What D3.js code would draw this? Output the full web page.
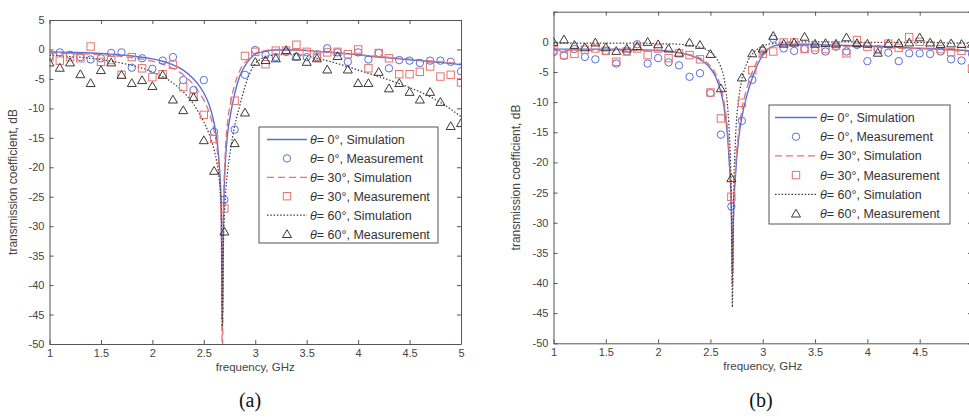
<!DOCTYPE html>
<html>
<head>
<meta charset="utf-8">
<script src="https://cdn.jsdelivr.net/npm/d3@7"></script>
<style>
  body { margin: 0; background: #fff; }
  text { font-family: Arial, "Liberation Sans", sans-serif; }
</style>
</head>
<body>
<svg id="chart" width="969" height="419"></svg>
<script>
// tick labels
const xTicks = [1, 1.5, 2, 2.5, 3, 3.5, 4, 4.5, 5];
const yTicks = [5, 0, -5, -10, -15, -20, -25, -30, -35, -40, -45, -50];

// measured frequencies (GHz), shared by both panels
const measFreq = [1.0, 1.1, 1.2, 1.3, 1.4, 1.5, 1.6, 1.7, 1.8, 1.9, 2.0, 2.1, 2.2, 2.3, 2.4, 2.5, 2.6, 2.7, 2.8, 2.9,
                  3.0, 3.1, 3.2, 3.3, 3.4, 3.5, 3.6, 3.7, 3.8, 3.9, 4.0, 4.1, 4.2, 4.3, 4.4, 4.5, 4.6, 4.7, 4.8, 4.9, 5.0];

// panel (a) simulation
const aSimFreq = [1.0, 1.2, 1.4, 1.6, 1.8, 2.0, 2.1, 2.2, 2.3, 2.4, 2.45, 2.5, 2.55, 2.6, 2.63, 2.65, 2.67, 2.68, 2.69,
                  2.71, 2.73, 2.76, 2.8, 2.85, 2.9, 2.95, 3.0, 3.1, 3.2, 3.4, 3.6, 3.8, 4.0, 4.2, 4.4, 4.6, 4.8, 5.0];
const aSim0 = [-0.4, -0.5, -0.6, -0.8, -1.1, -1.6, -2.0, -2.6, -3.5, -5.0, -6.0, -7.4, -9.3, -12.5, -15.8, -19.5, -27, -48, -30,
               -19, -14.5, -11, -7.5, -4.5, -2.8, -1.6, -0.8, -0.3, -0.1, -0.1, -0.3, -0.6, -0.9, -1.3, -1.6, -1.9, -2.2, -2.6];
const aSim30 = [-0.6, -0.7, -0.8, -1.0, -1.4, -2.0, -2.5, -3.2, -4.3, -6.0, -7.2, -8.6, -10.6, -13.8, -17, -21, -30, -55, -28,
                -17, -12.5, -9, -6, -3.6, -2.2, -1.3, -0.7, -0.2, 0.0, -0.1, -0.3, -0.6, -0.9, -1.2, -1.5, -1.8, -2.1, -2.4];
const aSim60 = [-1.0, -1.2, -1.5, -2.0, -2.7, -3.8, -4.6, -5.7, -7.2, -9.3, -10.7, -12.3, -14.3, -17, -19.5, -22, -28, -47, -34,
                -25, -21, -17, -13, -9.5, -6.3, -3.9, -2.4, -1.3, -0.9, -0.9, -1.5, -2.4, -3.5, -4.6, -5.8, -7.2, -9.0, -11.4];

// panel (a) measurement
const aMeas0 = [-1.2, -0.5, -0.9, -1.3, -1.7, -1.5, -0.6, -0.5, -3.1, -1.5, -3.3, -1.9, -1.3, -5.2, -6.9, -5.2, -14, -25.5, -13.6, -4.3,
                -0.1, -0.9, -1.3, -0.4, -1.2, -1.3, -1.3, 0.2, -0.5, -2.1, -0.5, -1.7, -0.6, -3.2, -1.8, -1.9, -2.3, -1.9, -1.9, -2.1, -3.7];
const aMeas30 = [-1.3, -1.9, -1.3, -1.5, 0.5, -2.1, -1.8, -4.3, -1.3, -3.2, -4.7, -4.2, -2.6, -6.4, -8.0, -11.1, -15.2, -27, -8.7, -1.1,
                 -0.4, -2.5, -0.2, -0.2, 0.8, -0.4, -1.2, -0.5, -0.4, -0.8, 0.0, -3.2, -0.6, -1.5, -4.2, -4.2, -3.8, -2.9, -4.6, -4.3, -5.6];
const aMeas60 = [-2.2, -3.1, -2.2, -4.2, -5.7, -3.5, -2.2, -4.3, -5.7, -5.2, -6.2, -4.3, -8.5, -10.3, -8.1, -15.4, -20.6, -30.9, -15.9, -10.7,
                 -2.1, -1.8, -1.5, -0.1, -1.2, -2.1, -1.5, -3.4, -1.1, -3.4, -5.7, -5.7, -3.8, -6.6, -5.7, -7.2, -8.5, -7.2, -8.9, -13, -12.5];

// panel (b) simulation
const bSimFreq = [1.0, 1.2, 1.4, 1.6, 1.8, 2.0, 2.2, 2.3, 2.4, 2.45, 2.5, 2.55, 2.6, 2.63, 2.66, 2.68, 2.70, 2.71, 2.72,
                  2.74, 2.77, 2.8, 2.85, 2.9, 2.95, 3.0, 3.05, 3.1, 3.2, 3.4, 3.6, 3.8, 4.0, 4.2, 4.4, 4.6, 4.8, 5.0];
const bSim0 = [-1.2, -1.2, -1.2, -1.2, -1.3, -1.4, -1.8, -2.2, -2.9, -3.5, -4.4, -5.8, -8.3, -10.8, -15, -20, -28, -39, -29,
               -22, -16, -12.5, -8.8, -6, -3.8, -2.2, -1.2, -0.7, -0.4, -0.4, -0.5, -0.6, -0.7, -0.8, -1.0, -1.1, -1.3, -1.5];
const bSim30 = [-1.4, -1.4, -1.4, -1.4, -1.4, -1.5, -1.8, -2.1, -2.7, -3.2, -4.0, -5.3, -7.6, -10, -14, -19, -28, -40.5, -30,
                -21, -15, -11.3, -7.6, -5, -3.1, -1.9, -1.2, -0.8, -0.6, -0.6, -0.7, -0.8, -0.9, -1.0, -1.1, -1.2, -1.4, -1.6];
const bSim60 = [-0.2, -0.2, -0.2, -0.2, -0.2, -0.3, -0.4, -0.6, -0.9, -1.2, -1.7, -2.5, -4.2, -6, -10, -15, -26, -44, -27,
                -16, -9.5, -6.3, -3.5, -2, -1.2, -0.7, -0.4, -0.3, -0.1, 0.0, 0.0, 0.0, -0.1, -0.1, -0.1, -0.1, -0.2, -0.2];

// panel (b) measurement
const bMeas0 = [-1.7, -2.3, -1.2, -2.5, -2.9, -1.5, -3.6, -1.6, -0.4, -3.6, -2.7, -3.4, -3.9, -5.8, -5.2, -8.5, -15.4, -27.3, -13.1, -6.3,
                -1.5, 0.5, -1.1, -1.5, -1.2, -1.4, -1.6, -0.8, -1.6, -0.5, -3.2, -1.2, -1.8, -3.2, -1.9, -1.9, -2.0, -1.6, -2.9, -3.1, -2.0];
const bMeas30 = [-1.4, -2.2, -2.0, -1.3, -1.1, -1.5, -3.3, -1.6, -1.1, -2.2, -1.1, -2.7, -1.9, -2.2, -2.9, -8.4, -12.7, -25.7, -10.1, -4.7,
                 -2.0, -1.6, -0.1, -0.1, -1.2, -0.9, -1.2, -0.6, -1.9, 0.3, -0.8, -1.3, -0.3, -1.0, 0.8, 0.0, -0.6, -1.2, -1.7, -1.5, -4.4];
const bMeas60 = [0.0, 0.4, -0.5, -0.9, -0.1, -0.9, -1.5, -1.1, -0.7, 0.0, -0.4, -1.1, -1.8, -0.1, -0.5, -2.0, -7.7, -22.6, -5.9, -1.9,
                 -1.1, 1.0, -0.3, -0.1, 0.85, -0.3, -0.2, -0.3, 0.75, -0.2, -0.3, -1.8, -0.3, -0.2, -0.1, 0.75, -0.1, -0.35, -0.25, -0.35, -0.3];

const legendLabels = [
  ["0°, Simulation", "line"], ["0°, Measurement", "circle"],
  ["30°, Simulation", "line"], ["30°, Measurement", "square"],
  ["60°, Simulation", "line"], ["60°, Measurement", "triangle"]
];

const blue = '#5a6ed8', red = '#e8736e', dark = '#3a3a3a', axisColor = '#555', tickText = '#444';
const W = 969;

const svg = d3.select('#chart');

function drawMarker(g, kind, cx, cy) {
  if (kind === 'circle') {
    g.append('circle').attr('cx', cx).attr('cy', cy).attr('r', 3.7)
      .attr('fill', 'none').attr('stroke', blue).attr('stroke-width', 1);
  } else if (kind === 'square') {
    g.append('rect').attr('x', cx - 3.7).attr('y', cy - 3.7).attr('width', 7.4).attr('height', 7.4)
      .attr('fill', 'none').attr('stroke', red).attr('stroke-width', 1);
  } else {
    g.append('path').attr('d', `M${cx},${cy - 4.3}L${cx + 4.5},${cy + 3.5}L${cx - 4.5},${cy + 3.5}Z`)
      .attr('fill', 'none').attr('stroke', dark).attr('stroke-width', 1);
  }
}

function drawPanel(p) {
  const x = d3.scaleLinear().domain([1, 5]).range([p.left, p.right]);
  const y = d3.scaleLinear().domain([-50, 5]).range([p.bottom, p.top]);
  const g = svg.append('g');
  const fmt = d => String(d);

  g.append('clipPath').attr('id', 'clip' + p.id).append('rect')
    .attr('x', p.left).attr('y', p.top).attr('width', p.right - p.left).attr('height', p.bottom - p.top);

  // axes with inward ticks on all four sides
  const ax = [
    [d3.axisBottom(x).tickValues(xTicks).tickFormat(fmt), `translate(0,${p.bottom})`],
    [d3.axisTop(x).tickValues(xTicks).tickFormat(''), `translate(0,${p.top})`],
    [d3.axisLeft(y).tickValues(yTicks).tickFormat(fmt), `translate(${p.left},0)`],
    [d3.axisRight(y).tickValues(yTicks).tickFormat(''), `translate(${p.right},0)`]
  ];
  ax.forEach(([a, t]) => {
    const ag = g.append('g').attr('transform', t)
      .call(a.tickSizeInner(-4).tickSizeOuter(0).tickPadding(5));
    ag.select('.domain').attr('stroke', axisColor);
    ag.selectAll('.tick line').attr('stroke', axisColor);
    ag.selectAll('.tick text').attr('fill', tickText).style('font-size', '11px');
  });
  // the figure is cropped on the right: drop labels that fall past the edge
  g.selectAll('.tick').filter(d => x(d) > W - 4).selectAll('text').remove();

  // simulation lines
  const line = d3.line().x(d => x(d[0])).y(d => y(d[1])).curve(d3.curveMonotoneX);
  const plot = g.append('g').attr('clip-path', `url(#clip${p.id})`);
  const sims = [
    [p.sim0, blue, null, 1.4],
    [p.sim30, red, '7,4', 1.3],
    [p.sim60, dark, '1.5,1.8', 1.2]
  ];
  sims.forEach(([vals, col, dash, sw]) => {
    plot.append('path')
      .datum(p.simFreq.map((f, i) => [f, vals[i]]))
      .attr('d', line)
      .style('fill', 'none')
      .style('stroke', col)
      .style('stroke-width', sw)
      .style('stroke-dasharray', dash);
  });

  // measurements
  [[p.meas0, 'circle'], [p.meas30, 'square'], [p.meas60, 'triangle']].forEach(([vals, kind]) => {
    measFreq.forEach((f, i) => drawMarker(plot, kind, x(f), y(vals[i])));
  });

  // legend
  const L = p.legend;
  g.append('rect').attr('x', L.x).attr('y', L.y).attr('width', L.w).attr('height', L.h)
    .attr('fill', '#fff').attr('stroke', axisColor).attr('stroke-width', 1);
  const styles = [[blue, 'none', 1.5], null, [red, '7,4', 1.3], null, [dark, '1.5,1.8', 1.2], null];
  legendLabels.forEach(([label, kind], i) => {
    const cy = L.y + 12.5 + i * L.step;
    if (kind === 'line') {
      g.append('line').attr('x1', L.x + L.s0).attr('x2', L.x + L.s1).attr('y1', cy).attr('y2', cy)
        .style('stroke', styles[i][0]).style('stroke-width', styles[i][2]).style('stroke-dasharray', styles[i][1]);
    } else {
      drawMarker(g, kind, L.x + (L.s0 + L.s1) / 2, cy);
    }
    const t = g.append('text').attr('x', L.x + L.tx).attr('y', cy + 4.5)
      .attr('fill', '#333').style('font-size', '12.5px');
    t.append('tspan').attr('font-style', 'italic').text('θ');
    t.append('tspan').text('= ' + label);
  });

  // axis titles
  g.append('text')
    .attr('transform', `translate(${p.ytx},${(p.top + p.bottom) / 2}) rotate(-90)`)
    .attr('text-anchor', 'middle').attr('fill', '#444').style('font-size', '12px')
    .text('transmission coefficient, dB');
  g.append('text')
    .attr('x', (x(1) + x(5)) / 2).attr('y', p.bottom + 26.5)
    .attr('text-anchor', 'middle').attr('fill', '#444').style('font-size', '11.5px')
    .text('frequency, GHz');

  // panel label
  g.append('text')
    .attr('x', p.labelX).attr('y', 407)
    .attr('text-anchor', 'middle').attr('fill', '#111')
    .style('font-family', '"Liberation Serif", "Times New Roman", serif').style('font-size', '20px')
    .text(p.label);
}

drawPanel({
  id: 'a', left: 49.5, right: 461, top: 20, bottom: 344, ytx: 17, labelX: 250, label: '(a)',
  simFreq: aSimFreq, sim0: aSim0, sim30: aSim30, sim60: aSim60,
  meas0: aMeas0, meas30: aMeas30, meas60: aMeas60,
  legend: { x: 259, y: 127, w: 179, h: 116, step: 18.9, s0: 8, s1: 48, tx: 51 }
});

drawPanel({
  id: 'b', left: 553.5, right: 972, top: 11.7, bottom: 343.3, ytx: 520, labelX: 761, label: '(b)',
  simFreq: bSimFreq, sim0: bSim0, sim30: bSim30, sim60: bSim60,
  meas0: bMeas0, meas30: bMeas30, meas60: bMeas60,
  legend: { x: 769, y: 105, w: 181, h: 119, step: 19.2, s0: 6, s1: 48, tx: 51 }
});
</script>
</body>
</html>
